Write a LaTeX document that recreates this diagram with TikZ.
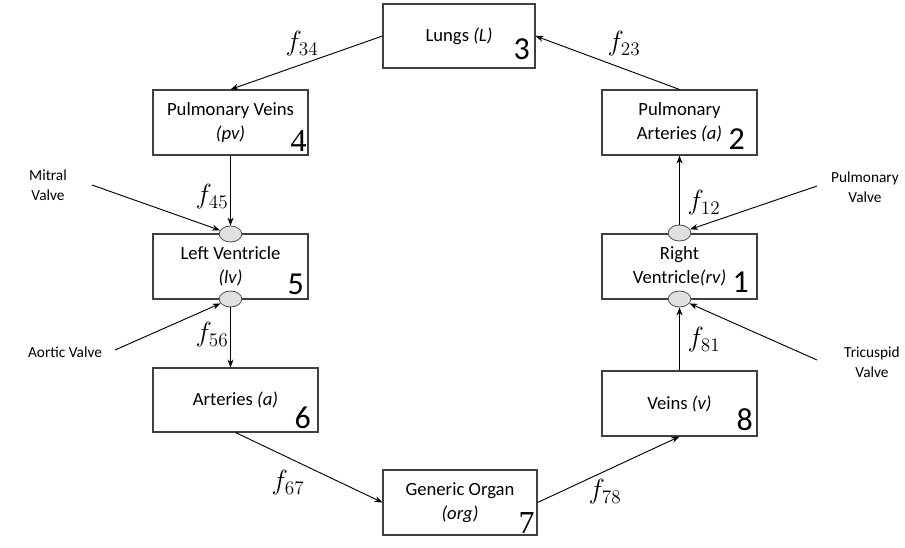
\documentclass[tikz,border=0pt]{standalone}
\usepackage{fontspec}
\setmainfont{Carlito}
\newfontfamily\numserif{Liberation Serif}
\usetikzlibrary{arrows.meta,shapes.geometric}
\begin{document}
\begin{tikzpicture}[x=0.75pt,y=-0.75pt,
  box/.style={draw=black!75, line width=0.8pt, fill=white, align=center,
    font=\fontsize{14}{18}\selectfont, inner sep=0pt},
  num/.style={anchor=base east, inner sep=0pt, font=\fontsize{24}{24}\selectfont},
  valve/.style={ellipse, draw=black!70, fill=black!12, line width=0.6pt,
    minimum width=17pt, minimum height=12pt, inner sep=0pt},
  vlabel/.style={align=center, font=\fontsize{11.5}{15}\selectfont},
  flab/.style={font=\fontsize{20}{24}\selectfont, inner sep=0pt},
  arr/.style={-{Stealth[length=6pt,width=4.5pt]}, line width=0.7pt, black}]
\useasboundingbox (0,0) rectangle (905,548);
% boxes
\node[box, minimum width=114pt, minimum height=48pt] (L) at (459,36) {Lungs \textit{(L)}};
\node[box, minimum width=116.25pt, minimum height=48.75pt] (PV) at (230.5,122.5) {Pulmonary Veins\\\textit{(pv)}};
\node[box, minimum width=116.25pt, minimum height=48.75pt] (PA) at (679.5,122.5) {Pulmonary\\Arteries \textit{(a)}};
\node[box, minimum width=116.25pt, minimum height=48.75pt] (LV) at (230.5,266.5) {Left Ventricle\\\textit{(lv)}};
\node[box, minimum width=116.25pt, minimum height=48.75pt] (RV) at (679.5,266.5) {Right\\Ventricle\textit{(rv)}};
\node[box, minimum width=123.75pt, minimum height=48pt] (A) at (235.5,400) {Arteries \textit{(a)}};
\node[box, minimum width=116.25pt, minimum height=48.75pt] (V) at (679.5,403.5) {Veins \textit{(v)}};
\node[box, minimum width=115.5pt, minimum height=48.75pt] (O) at (460,502.5) {Generic Organ\\\textit{(org)}};
% numbers
\node[num] (n3) at (530,60) {3};
\node[num, font=\fontsize{24}{24}\numserif] (n4) at (307,152) {4};
\node[num] (n2) at (745,150) {2};
\node[num] (n5) at (304,295) {5};
\node[num] (n1) at (749,293) {1};
\node[num] (n6) at (311,428) {6};
\node[num] (n8) at (753,430) {8};
\node[num, font=\fontsize{24}{24}\numserif] (n7) at (535,533) {7};
% valves
\node[valve] (v45) at (230.5,234) {};
\node[valve] (v56) at (230.5,299) {};
\node[valve] (v12) at (679.5,233) {};
\node[valve] (v81) at (679.5,299) {};
% valve labels
\node[vlabel] (mitral) at (48,185) {Mitral\\Valve};
\node[vlabel] (aortic) at (65,352) {Aortic Valve};
\node[vlabel] (pulm) at (865,187) {Pulmonary\\Valve};
\node[vlabel] (tric) at (872,362) {Tricuspid\\Valve};
\coordinate (cm) at (92,185);
\coordinate (ca) at (115,350);
\coordinate (cp) at (817,186);
\coordinate (ct) at (817,360);
% connectors
\draw[arr] (L.west) -- (PV.north);
\draw[arr] (PA.north) -- (L.east);
\draw[arr] (PV.south) -- (v45.north);
\draw[arr] (v56.south) -- (v56.south |- A.north);
\draw[arr] (A.south) -- (O.west);
\draw[arr] (O.east) -- (V.south);
\draw[arr] (V.north) -- (v81.south);
\draw[arr] (v12.north) -- (PA.south);
\draw[arr] (cm) -- (v45);
\draw[arr] (ca) -- (v56);
\draw[arr] (cp) -- (v12);
\draw[arr] (ct) -- (v81);
% flow labels
\node[flab] (f34) at (302,44) {$f_{34}$};
\node[flab] (f23) at (624,44) {$f_{23}$};
\node[flab] (f45) at (212,197) {$f_{45}$};
\node[flab] (f56) at (212,335) {$f_{56}$};
\node[flab] (f12) at (704,203) {$f_{12}$};
\node[flab] (f81) at (704,340) {$f_{81}$};
\node[flab] (f67) at (288,483) {$f_{67}$};
\node[flab] (f78) at (605,492) {$f_{78}$};
\end{tikzpicture}
\end{document}
